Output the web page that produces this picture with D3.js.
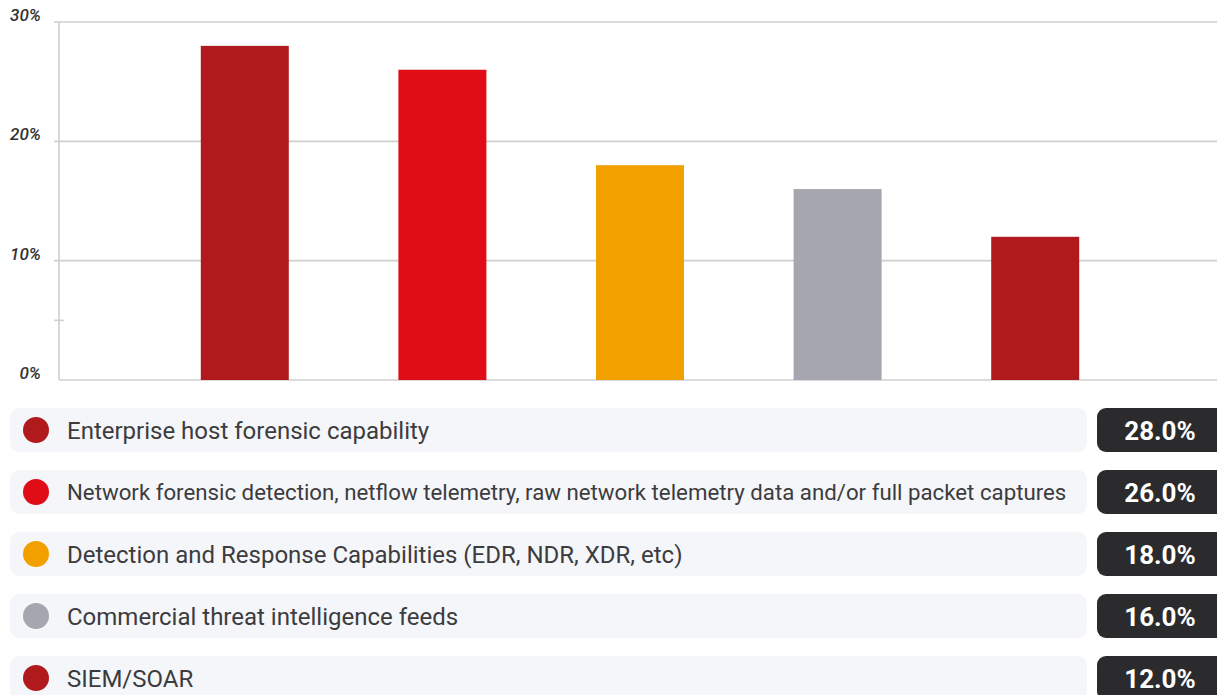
<!DOCTYPE html>
<html>
<head>
<meta charset="utf-8">
<script src="https://cdn.jsdelivr.net/npm/d3@7/dist/d3.min.js"></script>
<style>
  html, body { margin: 0; padding: 0; background: #ffffff; }
  svg { display: block; }
</style>
</head>
<body>
<svg id="chart" width="1217" height="695"></svg>
<script>
// Survey responses: share of respondents per capability
const categories = [
  "Enterprise host forensic capability",
  "Network forensic detection, netflow telemetry, raw network telemetry data and/or full packet captures",
  "Detection and Response Capabilities (EDR, NDR, XDR, etc)",
  "Commercial threat intelligence feeds",
  "SIEM/SOAR"
];
const values = [28.0, 26.0, 18.0, 16.0, 12.0];
const colors = ["#b01a1d", "#e00d17", "#f2a000", "#a6a6b0", "#b01a1d"];
const yTicks = [0, 10, 20, 30];
const yMinorTicks = [5];

const svg = d3.select("#chart");

const plot = { left: 59, right: 1217, top: 22, bottom: 380 };

const y = d3.scaleLinear().domain([0, 30]).range([plot.bottom, plot.top]);
const x = d3.scaleBand()
  .domain(categories)
  .range([146, 1134])
  .paddingInner(0.5547)
  .paddingOuter(0.2773);

const grid = "#cfcfcf";

// horizontal gridlines
svg.append("g").selectAll("line")
  .data(yTicks.filter(t => t > 0))
  .join("line")
  .attr("x1", 54).attr("x2", plot.right)
  .attr("y1", d => y(d)).attr("y2", d => y(d))
  .attr("stroke", grid).attr("stroke-width", 1.6);

// minor tick
svg.append("g").selectAll("line")
  .data(yMinorTicks)
  .join("line")
  .attr("x1", 54).attr("x2", 64)
  .attr("y1", d => y(d)).attr("y2", d => y(d))
  .attr("stroke", grid).attr("stroke-width", 1.6);

// axis lines
svg.append("line")
  .attr("x1", plot.left).attr("x2", plot.left)
  .attr("y1", y(30)).attr("y2", plot.bottom)
  .attr("stroke", grid).attr("stroke-width", 1.6);
svg.append("line")
  .attr("x1", plot.left).attr("x2", plot.right)
  .attr("y1", plot.bottom).attr("y2", plot.bottom)
  .attr("stroke", grid).attr("stroke-width", 1.6);

// y tick labels
svg.append("g").selectAll("text")
  .data(yTicks)
  .join("text")
  .attr("x", 41)
  .attr("y", d => y(d) - 1)
  .attr("text-anchor", "end")
  .attr("font-family", "Roboto, sans-serif")
  .attr("font-style", "italic")
  .attr("font-weight", 500)
  .attr("font-size", 17)
  .attr("fill", "#333333")
  .text(d => d + "%");

// bars
svg.append("g").selectAll("rect")
  .data(values)
  .join("rect")
  .attr("x", (d, i) => x(categories[i]))
  .attr("width", x.bandwidth())
  .attr("y", d => y(d))
  .attr("height", d => plot.bottom - y(d))
  .attr("fill", (d, i) => colors[i]);

// legend rows with value boxes
const rowTop = 408, rowH = 44, rowStep = 62;
const labelMaxWidth = 1000;
const labelSize = 24;
const rows = svg.append("g").selectAll("g")
  .data(categories)
  .join("g")
  .attr("transform", (d, i) => `translate(0,${rowTop + i * rowStep})`);

rows.append("rect")
  .attr("x", 10).attr("y", 0)
  .attr("width", 1077).attr("height", rowH)
  .attr("rx", 9)
  .attr("fill", "#f5f6fa");

rows.append("circle")
  .attr("cx", 36).attr("cy", rowH / 2)
  .attr("r", 13)
  .attr("fill", (d, i) => colors[i]);

rows.append("text")
  .attr("x", 67).attr("y", rowH / 2)
  .attr("dy", "0.37em")
  .attr("font-family", "Roboto, sans-serif")
  .attr("font-size", labelSize)
  .attr("fill", "#3c3c3e")
  .text(d => d)
  .each(function () {
    // shrink labels that would overrun the row
    const w = this.getComputedTextLength();
    if (w > labelMaxWidth) {
      d3.select(this).attr("font-size", labelSize * labelMaxWidth / w);
    }
  });

rows.append("rect")
  .attr("x", 1097).attr("y", 0)
  .attr("width", 132).attr("height", rowH)
  .attr("rx", 9)
  .attr("fill", "#2b2b2d");

rows.append("text")
  .attr("x", 1160).attr("y", rowH / 2)
  .attr("dy", "0.37em")
  .attr("text-anchor", "middle")
  .attr("font-family", "Roboto, sans-serif")
  .attr("font-weight", 700)
  .attr("font-size", 26)
  .attr("fill", "#ffffff")
  .text((d, i) => values[i].toFixed(1) + "%");
</script>
</body>
</html>
